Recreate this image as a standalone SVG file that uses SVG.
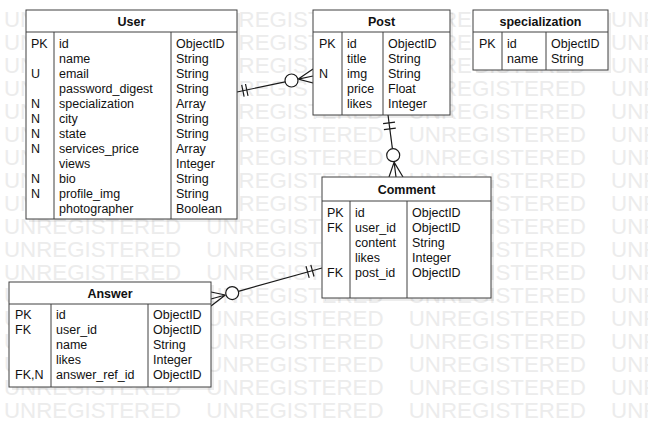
<svg xmlns="http://www.w3.org/2000/svg" width="648" height="427" viewBox="0 0 648 427">
<style>
.wm{font-family:"Liberation Sans",Arial,sans-serif;font-size:22.3px;fill:#ececec;word-spacing:19px}
.box{fill:#fff;stroke:#404040;stroke-width:1}
.sh{fill:#000;opacity:0.07}
.ln{stroke:#404040;stroke-width:1;fill:none}
.t{font-family:"Liberation Sans",Arial,sans-serif;font-size:12.5px;fill:#111}
.h{font-family:"Liberation Sans",Arial,sans-serif;font-size:12.5px;font-weight:bold;fill:#111;text-anchor:middle}
.c{stroke:#1a1a1a;stroke-width:1.2;fill:none}
.cc{stroke:#1a1a1a;stroke-width:1.2;fill:#fff}
</style>
<rect width="648" height="427" fill="#fff"/>
<g id="watermark" class="wm">
<text x="4" y="27">UNREGISTERED UNREGISTERED UNREGISTERED UNR</text>
<text x="4" y="50">UNREGISTERED UNREGISTERED UNREGISTERED UNR</text>
<text x="4" y="73">UNREGISTERED UNREGISTERED UNREGISTERED UNR</text>
<text x="4" y="96">UNREGISTERED UNREGISTERED UNREGISTERED UNR</text>
<text x="4" y="119">UNREGISTERED UNREGISTERED UNREGISTERED UNR</text>
<text x="4" y="142">UNREGISTERED UNREGISTERED UNREGISTERED UNR</text>
<text x="4" y="165">UNREGISTERED UNREGISTERED UNREGISTERED UNR</text>
<text x="4" y="188">UNREGISTERED UNREGISTERED UNREGISTERED UNR</text>
<text x="4" y="211">UNREGISTERED UNREGISTERED UNREGISTERED UNR</text>
<text x="4" y="234">UNREGISTERED UNREGISTERED UNREGISTERED UNR</text>
<text x="4" y="257">UNREGISTERED UNREGISTERED UNREGISTERED UNR</text>
<text x="4" y="280">UNREGISTERED UNREGISTERED UNREGISTERED UNR</text>
<text x="4" y="303">UNREGISTERED UNREGISTERED UNREGISTERED UNR</text>
<text x="4" y="326">UNREGISTERED UNREGISTERED UNREGISTERED UNR</text>
<text x="4" y="349">UNREGISTERED UNREGISTERED UNREGISTERED UNR</text>
<text x="4" y="372">UNREGISTERED UNREGISTERED UNREGISTERED UNR</text>
<text x="4" y="395">UNREGISTERED UNREGISTERED UNREGISTERED UNR</text>
<text x="4" y="418">UNREGISTERED UNREGISTERED UNREGISTERED UNR</text>
</g>

<g id="connectors">
<!-- User to Post -->
<line class="c" x1="237" y1="92" x2="285.1" y2="81.9"/>
<line class="c" x1="244.1" y1="96.6" x2="241.7" y2="84.9"/>
<line class="c" x1="248.0" y1="95.8" x2="245.5" y2="84.0"/>
<circle class="cc" cx="291.5" cy="80.5" r="6.5"/>
<path class="c" d="M313,69 L298.3,79.1 L313,76 M298.3,79.1 L313,83"/>
<!-- Post to Comment -->
<line class="c" x1="388" y1="115" x2="392.4" y2="148.7"/>
<line class="c" x1="383.1" y1="123.7" x2="395.0" y2="122.1"/>
<line class="c" x1="383.9" y1="129.7" x2="395.8" y2="128.1"/>
<circle class="cc" cx="393.2" cy="155.2" r="6.5"/>
<path class="c" d="M389,177 L394.1,162.1 L396,177 M394.1,162.1 L403,177"/>
<!-- Comment to Answer -->
<line class="c" x1="322" y1="268" x2="238.4" y2="291.3"/>
<line class="c" x1="314.0" y1="276.5" x2="310.8" y2="264.9"/>
<line class="c" x1="309.2" y1="277.8" x2="306.0" y2="266.2"/>
<circle class="cc" cx="232.2" cy="293.1" r="6.5"/>
<path class="c" d="M211,292 L225.4,295 L211,299 M225.4,295 L211,306"/>
</g>

<g id="user">
<rect class="sh" x="29" y="13" width="211" height="209"/>
<rect class="box" x="26" y="10" width="211" height="209"/>
<line class="ln" x1="26" y1="32" x2="237" y2="32"/>
<line class="ln" x1="54" y1="32" x2="54" y2="219"/>
<line class="ln" x1="171" y1="32" x2="171" y2="219"/>
<text class="h" x="131.5" y="25.5">User</text>
<text class="t" x="31" y="47.5">PK</text>
<text class="t" x="31" y="77.5">U</text>
<text class="t" x="31" y="107.5">N</text>
<text class="t" x="31" y="122.5">N</text>
<text class="t" x="31" y="137.5">N</text>
<text class="t" x="31" y="152.5">N</text>
<text class="t" x="31" y="182.5">N</text>
<text class="t" x="31" y="197.5">N</text>
<text class="t" x="59" y="47.5">id</text>
<text class="t" x="59" y="62.5">name</text>
<text class="t" x="59" y="77.5">email</text>
<text class="t" x="59" y="92.5">password_digest</text>
<text class="t" x="59" y="107.5">specialization</text>
<text class="t" x="59" y="122.5">city</text>
<text class="t" x="59" y="137.5">state</text>
<text class="t" x="59" y="152.5">services_price</text>
<text class="t" x="59" y="167.5">views</text>
<text class="t" x="59" y="182.5">bio</text>
<text class="t" x="59" y="197.5">profile_img</text>
<text class="t" x="59" y="212.5">photographer</text>
<text class="t" x="176" y="47.5">ObjectID</text>
<text class="t" x="176" y="62.5">String</text>
<text class="t" x="176" y="77.5">String</text>
<text class="t" x="176" y="92.5">String</text>
<text class="t" x="176" y="107.5">Array</text>
<text class="t" x="176" y="122.5">String</text>
<text class="t" x="176" y="137.5">String</text>
<text class="t" x="176" y="152.5">Array</text>
<text class="t" x="176" y="167.5">Integer</text>
<text class="t" x="176" y="182.5">String</text>
<text class="t" x="176" y="197.5">String</text>
<text class="t" x="176" y="212.5">Boolean</text>
</g>

<g id="post">
<rect class="sh" x="316" y="13" width="137" height="105"/>
<rect class="box" x="313" y="10" width="137" height="105"/>
<line class="ln" x1="313" y1="32" x2="450" y2="32"/>
<line class="ln" x1="342" y1="32" x2="342" y2="115"/>
<line class="ln" x1="383" y1="32" x2="383" y2="115"/>
<text class="h" x="381.5" y="25.5">Post</text>
<text class="t" x="319" y="47.5">PK</text>
<text class="t" x="319" y="77.5">N</text>
<text class="t" x="347" y="47.5">id</text>
<text class="t" x="347" y="62.5">title</text>
<text class="t" x="347" y="77.5">img</text>
<text class="t" x="347" y="92.5">price</text>
<text class="t" x="347" y="107.5">likes</text>
<text class="t" x="388" y="47.5">ObjectID</text>
<text class="t" x="388" y="62.5">String</text>
<text class="t" x="388" y="77.5">String</text>
<text class="t" x="388" y="92.5">Float</text>
<text class="t" x="388" y="107.5">Integer</text>
</g>

<g id="specialization">
<rect class="sh" x="476" y="13" width="135" height="60"/>
<rect class="box" x="473" y="10" width="135" height="60"/>
<line class="ln" x1="473" y1="32" x2="608" y2="32"/>
<line class="ln" x1="502" y1="32" x2="502" y2="70"/>
<line class="ln" x1="546" y1="32" x2="546" y2="70"/>
<text class="h" x="540.5" y="25.5">specialization</text>
<text class="t" x="479" y="47.5">PK</text>
<text class="t" x="507" y="47.5">id</text>
<text class="t" x="507" y="62.5">name</text>
<text class="t" x="551" y="47.5">ObjectID</text>
<text class="t" x="551" y="62.5">String</text>
</g>

<g id="comment">
<rect class="sh" x="325" y="180" width="169" height="121"/>
<rect class="box" x="322" y="177" width="169" height="121"/>
<line class="ln" x1="322" y1="201" x2="491" y2="201"/>
<line class="ln" x1="350" y1="201" x2="350" y2="298"/>
<line class="ln" x1="407" y1="201" x2="407" y2="298"/>
<text class="h" x="406.5" y="193.5">Comment</text>
<text class="t" x="327" y="216.5">PK</text>
<text class="t" x="327" y="231.5">FK</text>
<text class="t" x="327" y="276.5">FK</text>
<text class="t" x="355" y="216.5">id</text>
<text class="t" x="355" y="231.5">user_id</text>
<text class="t" x="355" y="246.5">content</text>
<text class="t" x="355" y="261.5">likes</text>
<text class="t" x="355" y="276.5">post_id</text>
<text class="t" x="412" y="216.5">ObjectID</text>
<text class="t" x="412" y="231.5">ObjectID</text>
<text class="t" x="412" y="246.5">String</text>
<text class="t" x="412" y="261.5">Integer</text>
<text class="t" x="412" y="276.5">ObjectID</text>
</g>

<g id="answer">
<rect class="sh" x="12" y="285" width="202" height="105"/>
<rect class="box" x="9" y="282" width="202" height="105"/>
<line class="ln" x1="9" y1="304" x2="211" y2="304"/>
<line class="ln" x1="51" y1="304" x2="51" y2="387"/>
<line class="ln" x1="148" y1="304" x2="148" y2="387"/>
<text class="h" x="110" y="297.5">Answer</text>
<text class="t" x="15" y="319">PK</text>
<text class="t" x="15" y="334">FK</text>
<text class="t" x="15" y="379">FK,N</text>
<text class="t" x="56" y="319">id</text>
<text class="t" x="56" y="334">user_id</text>
<text class="t" x="56" y="349">name</text>
<text class="t" x="56" y="364">likes</text>
<text class="t" x="56" y="379">answer_ref_id</text>
<text class="t" x="153" y="319">ObjectID</text>
<text class="t" x="153" y="334">ObjectID</text>
<text class="t" x="153" y="349">String</text>
<text class="t" x="153" y="364">Integer</text>
<text class="t" x="153" y="379">ObjectID</text>
</g>
</svg>
